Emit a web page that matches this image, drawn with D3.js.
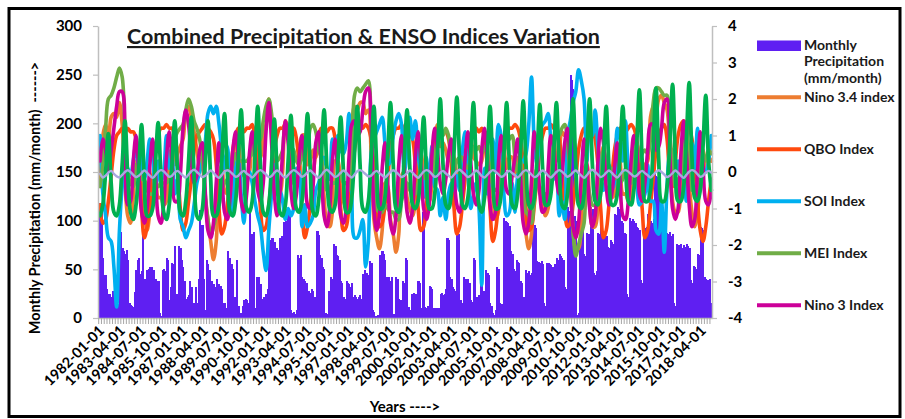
<!DOCTYPE html>
<html><head><meta charset="utf-8">
<script src="https://cdn.jsdelivr.net/npm/d3@7"></script>
<style>
html,body{margin:0;padding:0;background:#fff;}
svg{display:block;font-family:Lato,"Carlito","Open Sans",sans-serif;}
</style></head><body>
<svg id="chart" width="905" height="419"></svg>
<script>
// ---------- DATA ----------
const tickLabels = ["1982-01-01","1983-04-01","1984-07-01","1985-10-01","1987-01-01","1988-04-01","1989-07-01","1990-10-01","1992-01-01","1993-04-01","1994-07-01","1995-10-01","1997-01-01","1998-04-01","1999-07-01","2000-10-01","2002-01-01","2003-04-01","2004-07-01","2005-10-01","2007-01-01","2008-04-01","2009-07-01","2010-10-01","2012-01-01","2013-04-01","2014-07-01","2015-10-01","2017-01-01","2018-04-01"];
const leftTicks = [0,50,100,150,200,250,300];
const rightTicks = [-4,-3,-2,-1,0,1,2,3,4];
const legendLabels = [["Monthly","Precipitation","(mm/month)"],["Nino 3.4 index"],["QBO Index"],["SOI Index"],["MEI Index"],["Nino 3 Index"]];

// monthly precipitation (mm/month), Jan 1982 .. Dec 2018
const precipitation = [
63,118,115,62,44,44,30,25,25,22,28,25,
12,10,14,96,88,72,69,66,70,60,15,13,
12,11,27,49,60,62,45,48,86,40,20,49,
50,52,52,38,49,40,38,38,5,2,49,50,
48,62,60,18,32,56,55,74,25,25,74,72,
60,52,38,20,22,24,38,32,3,15,32,15,
40,111,96,96,40,8,60,55,49,36,38,35,
32,40,33,35,33,30,15,15,10,69,60,62,
55,50,22,22,60,12,5,5,12,18,20,18,
15,110,86,86,88,10,42,40,42,35,20,22,
18,25,30,82,80,82,82,78,70,72,70,82,
84,80,99,100,96,109,105,8,5,6,4,8,
65,62,65,42,40,38,36,28,28,26,30,28,
22,20,89,85,65,62,52,50,5,4,28,26,
42,40,76,74,65,64,60,38,36,22,20,38,
36,35,32,36,22,24,22,20,22,24,20,45,
49,45,46,44,59,56,8,6,2,1,3,65,
62,69,66,60,42,40,42,38,42,4,3,42,
40,20,18,15,38,36,62,60,11,8,25,24,
26,25,22,38,36,10,109,100,11,10,12,33,
32,30,10,8,10,6,10,25,26,24,25,30,
82,80,42,40,32,30,28,89,86,18,18,15,
42,40,38,40,36,18,16,62,60,22,20,24,
86,82,28,26,49,46,44,15,12,5,3,8,
52,50,15,14,12,103,100,99,98,95,69,66,
50,48,60,58,56,38,36,22,20,49,46,48,
44,46,99,96,92,59,58,56,59,55,15,12,
57,56,55,54,52,50,55,62,60,66,64,62,
60,32,30,114,110,250,245,235,105,100,3,5,
100,98,95,66,64,87,86,84,114,112,46,44,
48,87,86,107,104,87,86,84,73,72,80,78,
76,107,106,114,112,110,100,98,87,86,25,22,
103,100,102,100,98,93,92,90,39,36,93,92,
94,107,105,100,98,102,148,146,145,140,100,98,
100,96,98,87,86,88,84,86,15,12,76,75,
74,76,72,75,73,76,74,72,39,36,53,52,
50,66,65,93,92,90,42,40,39,36,40,15];

// index series, read every second month (Feb, Apr, Jun, Aug, Oct, Dec), 1982 .. 2018
const nino34 = [
-0.3,1.0,1.3,0.8,1.5,1.6, 1.5,1.9,1.3,-0.3,-1.2,-1.4, -0.7,0.3,0.2,-0.4,-1.0,-1.6, -1.1,-0.1,0.0,-0.7,-0.7,-0.9,
-0.8,0.5,0.6,0.2,0.5,0.7, 0.9,1.6,1.8,1.5,1.1,0.6, 0.2,0.4,-0.7,-1.3,-1.9,-2.4, -1.9,-0.1,0.2,-0.5,-0.6,-0.6,
-0.1,1.0,0.8,0.1,-0.1,-0.1, 0.0,1.0,1.2,0.4,0.4,1.0, 1.3,2.0,1.3,-0.1,-0.6,-0.6, 0.0,1.4,1.2,0.1,-0.3,-0.4,
-0.2,1.0,1.0,0.2,0.3,0.6, 0.4,1.0,0.6,-0.7,-1.4,-1.5, -1.1,0.3,0.3,-0.5,-0.8,-1.0, -0.7,1.0,1.8,1.7,1.9,1.9,
1.6,1.7,0.5,-1.3,-1.8,-2.1, -1.6,-0.3,-0.4,-1.3,-1.7,-2.2, -1.7,-0.1,0.0,-0.7,-1.0,-1.2, -0.8,0.4,0.5,-0.3,-0.7,-0.8,
-0.3,0.9,1.3,0.7,0.8,0.6, 0.3,0.7,0.4,0.0,-0.1,-0.1, 0.0,0.9,0.9,0.4,0.3,0.2, 0.3,1.1,0.7,-0.3,-0.7,-1.3,
-1.1,0.3,0.6,0.1,0.4,0.4, -0.1,0.4,0.1,-1.0,-1.7,-2.1, -1.7,-0.2,0.1,-0.5,-0.8,-1.2, -1.0,0.5,1.0,0.3,0.6,1.1,
1.0,1.1,0.0,-1.6,-2.1,-2.1, -1.4,0.1,0.2,-0.9,-1.5,-1.5, -0.9,0.3,0.7,0.1,-0.2,-0.7, -0.6,0.5,0.3,-0.6,-0.6,-0.8,
-0.7,0.8,0.8,-0.2,0.0,0.2, 0.3,1.5,1.8,1.6,2.0,2.1, 1.9,1.7,0.6,-0.8,-1.1,-1.1, -0.4,1.0,0.9,-0.3,-1.1,-1.5,
-1.2,0.2,0.6,0.0,0.4,0.3];

const qbo = [
-0.9,-1.4,-1.3,-0.8,-0.1,0.6, 1.0,1.1,1.2,1.1,1.2,1.1, 1.1,0.9,0.2,-1.0,-1.8,-1.5, -0.9,-0.2,0.6,1.0,1.2,1.2,
1.3,1.2,1.2,0.9,0.2,-1.0, -1.6,-1.4,-0.8,-0.2,0.6,1.0, 1.1,1.2,1.3,1.2,1.1,0.9, 0.2,-1.0,-1.7,-1.5,-0.9,-0.2,
0.6,1.0,1.2,1.2,1.1,1.2, 1.2,1.3,0.9,0.2,-1.0,-1.6, -1.5,-0.9,-0.2,0.6,1.0,1.2, 1.2,1.3,1.1,1.2,1.2,0.9,
0.2,-1.0,-1.8,-1.5,-0.9,-0.2, 0.6,1.0,1.2,1.2,1.1,1.2, 1.2,0.9,0.2,-1.0,-1.6,-1.5, -0.9,-0.2,0.6,1.0,1.2,1.2,
1.3,1.2,0.9,0.2,-1.0,-1.5, -1.4,-0.9,-0.2,0.6,1.0,1.2, 1.2,1.3,1.1,1.2,1.1,0.9, 0.2,-1.0,-1.6,-1.5,-0.9,-0.2,
0.6,1.0,1.2,1.2,1.1,1.1, 0.9,0.2,-1.0,-1.7,-1.5,-0.9, -0.2,0.6,1.0,1.2,1.2,1.1, 1.2,0.9,0.2,-1.0,-1.9,-1.6,
-0.9,-0.2,0.6,1.0,1.2,1.2, 1.3,1.2,0.9,0.2,-1.0,-1.6, -1.5,-0.9,-0.2,0.6,1.0,1.2, 1.2,1.3,1.2,1.1,0.9,0.2,
-1.0,-1.5,-1.4,-0.9,-0.2,0.6, 1.0,1.2,1.2,1.1,1.2,0.9, 0.2,-1.0,-1.8,-1.6,-0.9,-0.2, 0.6,1.0,1.2,1.2,1.1,1.2,
1.3,1.2,0.9,0.2,-1.0,-1.8, -1.6,-0.9,-0.2,0.6,1.0,1.2, 1.3,0.9,-0.1,-0.4,0.3,1.0, 1.3,1.4,1.3,1.2,0.9,0.2,
-0.8,-1.6,-1.9,-1.5,-0.8,-0.2];

const soi = [
1.0,-0.6,-1.2,-1.8,-1.9,-2.6, -3.7,-1.6,-0.4,0.2,0.1,-0.1, 0.3,0.8,0.0,0.4,-0.2,0.3, 0.9,0.5,-0.6,0.3,-0.3,0.0,
1.0,0.1,0.4,-0.6,-0.2,-1.3, -1.5,-1.8,-1.6,-1.4,-0.9,-0.3, 0.0,0.3,0.8,1.6,1.8,1.6, 1.8,1.3,0.6,0.1,0.7,-0.4,
-1.2,0.1,0.4,-0.6,-1.4,-0.4, 0.0,-0.3,-0.8,-1.2,-1.5,-2.2, -2.7,-1.6,-0.6,0.2,-0.6,-0.5, -0.8,-1.3,-1.0,-1.2,-1.0,0.1,
0.0,-1.5,-0.9,-1.5,-1.4,-1.2, -0.5,-0.3,0.0,0.4,0.1,-0.2, 0.9,0.6,1.0,0.6,0.5,0.8, 1.6,-0.6,-1.8,-1.8,-1.6,-1.3,
-2.6,-1.9,0.5,0.9,1.1,1.3, 1.5,0.8,0.2,0.3,1.0,1.4, 1.6,1.3,0.0,0.6,1.5,0.9, 1.4,0.5,-0.1,-0.7,0.4,-0.5,
0.7,-0.4,-0.5,-1.2,-0.7,-1.3, -0.6,-0.3,-0.5,-0.1,-0.5,0.6, 1.1,0.0,-1.0,-0.6,-0.3,-1.0, -3.1,0.1,-0.6,-0.2,0.9,0.0,
1.3,1.0,-0.6,-1.2,-1.1,-0.3, -1.1,-0.1,0.2,0.3,0.5,1.3, 2.6,0.8,0.2,1.1,1.3,1.4, 1.6,0.8,-0.2,0.0,-1.2,-0.8,
-1.3,1.0,1.4,1.9,2.2,2.8, 2.5,2.0,0.3,1.0,1.0,1.7, 0.7,-0.1,-0.5,-0.2,0.2,-0.5, -0.3,1.2,0.9,0.3,1.4,0.1,
-0.3,0.8,0.1,-0.9,-0.8,-0.6, 0.2,-0.8,-0.8,-1.6,-1.7,-0.8, -2.2,-0.4,0.5,0.6,-0.1,0.3, -0.1,-0.2,-0.8,0.5,0.8,0.1,
1.2,-0.2,0.1,0.0,0.3,1.0];

const mei = [
-0.4,0.2,1.2,2.0,2.1,2.3, 2.6,2.85,2.6,1.2,0.0,-0.3, -0.4,0.2,-0.1,-0.2,-0.2,-0.5, -0.6,-0.6,-0.4,-0.4,-0.3,-0.3,
-0.3,-0.2,0.2,0.9,1.1,1.2, 1.3,1.7,2.0,1.8,1.4,1.2, 0.9,0.3,-0.6,-1.3,-1.75,-1.5, -1.2,-0.9,-0.5,-0.3,-0.2,0.0,
0.2,0.5,0.3,0.3,0.3,0.3, 0.4,0.5,0.8,0.8,0.9,1.4, 1.8,2.0,1.6,0.6,0.3,0.4, 0.6,1.3,1.3,0.7,0.6,0.3,
0.2,0.4,0.8,0.8,1.2,1.3, 1.1,0.6,0.4,-0.2,-0.5,-0.5, -0.3,-0.3,-0.1,-0.1,-0.3,-0.3, -0.5,0.5,2.1,2.3,2.2,2.3,
2.4,2.5,1.2,-0.5,-1.0,-1.1, -1.1,-0.9,-1.0,-1.1,-1.1,-1.3, -1.3,-0.8,-0.5,-0.3,-0.5,-0.6, -0.6,-0.3,0.1,-0.1,-0.2,-0.1,
-0.1,0.4,0.9,1.0,1.0,1.2, 1.0,0.4,0.0,0.3,0.4,0.4, 0.2,0.1,0.4,0.7,0.6,0.7, 0.5,0.7,0.5,0.1,-0.4,-0.5,
-0.5,-0.2,0.4,0.8,0.9,1.0, 0.4,0.0,0.3,-0.6,-1.1,-1.2, -1.4,-0.8,-0.3,-0.4,-0.8,-0.6, -0.7,-0.1,0.8,1.0,1.0,1.2,
1.3,0.8,-0.2,-1.6,-2.3,-2.0, -1.7,-1.4,-0.2,-0.6,-0.9,-0.9, -0.6,-0.3,0.6,0.3,0.0,0.1, -0.2,-0.1,-0.3,-0.2,0.1,-0.1,
-0.3,0.3,0.8,0.3,0.5,0.6, 0.5,0.9,1.9,2.3,2.3,2.2, 2.1,2.1,1.0,0.3,-0.4,-0.2, -0.1,0.8,1.2,0.4,-0.5,-0.5,
-0.6,-0.1,0.5,0.3,0.6,0.5];

const nino3 = [
0.3,0.9,0.6,0.0,0.6,1.2, 1.8,2.2,2.2,0.6,-0.9,-0.8, 0.3,1.0,0.0,-1.1,-1.4,-1.0, 0.2,0.9,0.0,-1.2,-1.4,-0.9,
0.4,1.1,0.3,-0.8,-0.8,-0.1, 1.2,1.7,1.3,0.3,-0.3,-0.1, 0.6,0.8,-0.5,-1.6,-1.8,-1.4, -0.3,0.8,0.0,-1.1,-1.3,-0.7,
0.6,1.1,0.3,-0.8,-1.1,-0.6, 0.5,1.1,0.5,-0.5,-0.8,-0.3, 1.1,1.9,0.8,-0.6,-1.2,-0.6, 0.5,1.4,0.8,-0.5,-1.0,-0.6,
0.4,1.0,0.3,-0.9,-1.0,-0.4, 0.8,1.1,0.1,-1.2,-1.5,-1.0, 0.3,0.9,-0.1,-1.2,-1.4,-1.0, 0.4,1.3,1.4,1.0,1.1,1.7,
2.2,2.3,1.3,-1.0,-1.6,-1.2, 0.1,0.8,-0.3,-1.4,-1.7,-1.2, 0.2,1.0,0.1,-1.1,-1.4,-1.0, 0.4,1.1,0.2,-1.0,-1.3,-0.9,
0.5,1.2,0.6,-0.3,-0.6,-0.2, 0.5,0.9,-0.1,-0.9,-1.1,-0.6, 0.4,1.1,0.3,-0.6,-0.9,-0.5, 0.6,1.2,0.4,-0.9,-1.3,-1.1,
0.2,1.0,0.3,-0.5,-0.6,-0.1, 0.4,0.9,-0.1,-1.4,-1.7,-1.4, -0.2,1.1,0.5,-0.6,-1.1,-1.0, 0.1,1.0,0.7,-0.2,-0.6,-0.1,
0.8,1.2,0.0,-1.5,-1.8,-1.4, -0.1,0.9,0.2,-1.0,-1.5,-1.2, 0.3,1.2,0.8,-0.4,-0.9,-0.6, 0.1,0.8,-0.2,-1.2,-1.3,-0.8,
0.3,1.0,0.7,-0.6,-0.8,-0.3, 0.6,1.3,1.3,0.6,0.7,1.2, 1.9,2.0,0.4,-1.0,-1.3,-1.0, 0.5,1.4,0.5,-0.9,-1.5,-1.3,
0.0,1.1,0.2,-0.8,-0.9,-0.5];

// unlabelled dark-green series (regular annual cycle)
const annualCycle = [
-1.2,-0.9,0.0,1.05,-0.3,-1.1, -1.2,-0.9,0.2,1.4,-0.1,-1.1, -1.3,-0.9,0.1,1.3,-0.2,-1.2, -1.2,-1.0,0.2,1.35,-0.1,-1.1,
-1.3,-0.9,0.2,1.4,0.0,-1.1, -1.2,-0.8,0.3,1.5,-0.1,-1.2, -1.3,-1.0,0.2,1.4,-0.2,-1.2, -1.2,-0.9,0.3,1.6,0.0,-1.1,
-1.2,-0.8,0.4,1.7,0.1,-1.0, -1.1,-0.8,0.4,1.8,0.1,-1.1, -1.2,-0.9,0.2,1.45,0.0,-1.1, -1.2,-0.9,0.3,1.55,0.0,-1.0,
-1.1,-0.8,0.3,1.6,0.1,-1.1, -1.2,-0.8,0.4,1.7,0.1,-1.0, -1.1,-0.9,0.3,1.5,0.0,-1.1, -1.1,-0.7,0.5,1.8,0.2,-1.0,
-1.1,-0.8,0.4,1.8,0.2,-1.0, -1.0,-0.7,0.5,1.9,0.2,-1.0, -1.1,-0.7,0.4,1.7,0.1,-0.9, -1.0,-0.8,0.3,1.5,0.0,-1.0,
-1.0,-0.6,0.5,2.0,0.2,-0.9, -1.0,-0.6,0.6,2.05,0.3,-0.9, -1.0,-0.7,0.5,1.9,0.2,-0.9, -1.1,-0.7,0.4,1.8,0.1,-1.0,
-1.0,-0.6,0.5,1.9,0.2,-0.9, -1.0,-0.6,0.5,1.95,0.2,-0.9, -1.0,-0.7,0.4,1.85,0.1,-0.9, -0.9,-0.6,0.5,1.9,0.2,-0.9,
-1.0,-0.6,0.6,2.0,0.2,-0.9, -1.0,-0.6,0.6,2.0,0.2,-0.8, -0.9,-0.6,0.4,1.8,0.1,-0.9, -0.9,-0.6,0.5,1.8,0.2,-0.8,
-0.9,-0.5,0.7,2.25,0.3,-0.8, -0.8,-0.5,0.7,2.3,0.3,-0.8, -0.8,-0.4,0.8,2.4,0.4,-0.8, -0.8,-0.4,0.9,2.45,0.4,-0.7,
-0.8,-0.5,0.7,2.1,0.3,-0.5];

// unlabelled lavender series (small wiggle around zero)
const smallWave = [
-0.05,-0.15,-0.1,-0.02,0.03,-0.05, -0.12,-0.15,-0.08,0.0,0.05,0.0, -0.08,-0.14,-0.1,-0.03,0.04,-0.02, -0.1,-0.16,-0.09,0.0,0.05,0.02,
-0.06,-0.13,-0.1,-0.02,0.03,-0.03, -0.1,-0.15,-0.07,0.02,0.06,0.0, -0.07,-0.14,-0.1,-0.03,0.04,-0.02, -0.11,-0.16,-0.08,0.01,0.05,0.01,
-0.06,-0.13,-0.1,-0.02,0.03,-0.04, -0.09,-0.15,-0.08,0.01,0.05,0.0, -0.07,-0.14,-0.11,-0.02,0.04,-0.01, -0.1,-0.15,-0.08,0.0,0.05,0.01,
-0.06,-0.13,-0.09,-0.01,0.04,-0.03, -0.1,-0.16,-0.09,0.01,0.06,0.0, -0.07,-0.14,-0.1,-0.02,0.04,-0.02, -0.1,-0.15,-0.07,0.02,0.05,0.01,
-0.06,-0.12,-0.1,-0.02,0.03,-0.03, -0.09,-0.15,-0.08,0.0,0.05,0.0, -0.07,-0.14,-0.1,-0.03,0.04,-0.02, -0.1,-0.16,-0.08,0.01,0.05,0.02,
-0.06,-0.13,-0.1,-0.02,0.03,-0.04, -0.1,-0.15,-0.07,0.02,0.06,0.0, -0.07,-0.14,-0.1,-0.03,0.04,-0.02, -0.11,-0.15,-0.08,0.0,0.05,0.01,
-0.06,-0.13,-0.1,-0.02,0.03,-0.03, -0.09,-0.15,-0.08,0.01,0.05,0.0, -0.07,-0.14,-0.11,-0.02,0.04,-0.01, -0.1,-0.15,-0.08,0.0,0.05,0.01,
-0.06,-0.13,-0.09,-0.01,0.04,-0.03, -0.1,-0.16,-0.09,0.01,0.06,0.0, -0.07,-0.14,-0.1,-0.02,0.04,-0.02, -0.1,-0.15,-0.07,0.02,0.05,0.01,
-0.06,-0.12,-0.1,-0.02,0.03,-0.03, -0.09,-0.15,-0.08,0.0,0.05,0.0, -0.07,-0.14,-0.1,-0.03,0.04,-0.02, -0.1,-0.16,-0.08,0.01,0.05,0.02,
-0.06,-0.13,-0.1,-0.02,0.03,-0.02];

// ---------- CHART ----------
const months = d3.timeMonth.range(new Date(1982,0,1), new Date(2019,0,1));
const cats = months.map(d3.timeFormat("%Y-%m-%d"));
const lineCats = cats.filter((c,i)=>i%2===1);

const svg = d3.select("#chart");
const P = {left:98, right:712, top:26, bottom:318};
const AXIS_GRAY = "#BFBFBF";

const x = d3.scaleBand().domain(cats).range([P.left,P.right]).padding(0);
const yL = d3.scaleLinear().domain([0,300]).range([P.bottom,P.top]);
const yR = d3.scaleLinear().domain([-4,4]).range([P.bottom,P.top]);

// outer frame
svg.append("rect").attr("x",9).attr("y",8.5).attr("width",891).attr("height",408)
  .attr("fill","#fff").attr("stroke","#000").attr("stroke-width",3);

// bars
svg.append("g").attr("shape-rendering","crispEdges").selectAll("rect").data(precipitation).join("rect")
  .attr("x",(d,i)=>x(cats[i])).attr("width",x.bandwidth()+0.7)
  .attr("y",d=>yL(d)).attr("height",d=>yL(0)-yL(d)).attr("fill","#5F1FF2");

// lines
const series = [
  {data:nino34, color:"#ED7D31", w:3.6},
  {data:qbo, color:"#FF4A0E", w:3.6},
  {data:soi, color:"#00B0F0", w:3.6},
  {data:mei, color:"#70AD47", w:3.6},
  {data:nino3, color:"#CC0099", w:3.6},
  {data:annualCycle, color:"#00B050", w:3.8},
  {data:smallWave, color:"#A8A8E0", w:2.4}
];
const line = d3.line()
  .x((d,i)=>x(lineCats[i])+x.bandwidth()/2)
  .y(d=>yR(d))
  .curve(d3.curveCatmullRom.alpha(0.5));
svg.append("g").selectAll("path").data(series).join("path")
  .attr("d",s=>line(s.data)).attr("fill","none")
  .attr("stroke",s=>s.color).attr("stroke-width",s=>s.w)
  .attr("stroke-linejoin","round").attr("stroke-linecap","round");

// axes
function styleAxis(g){
  g.selectAll(".domain").attr("stroke",AXIS_GRAY).attr("stroke-width",1.5);
  g.selectAll(".tick line").attr("stroke",AXIS_GRAY).attr("stroke-width",1.2);
  g.selectAll("text").attr("fill","#000").attr("font-weight","700").attr("font-size","15px")
   .attr("font-family","Lato, Carlito, sans-serif");
}
svg.append("g").attr("transform",`translate(${P.left},0)`)
  .call(d3.axisLeft(yL).tickValues(leftTicks).tickSize(5).tickPadding(11).tickSizeOuter(0))
  .call(styleAxis);
svg.append("g").attr("transform",`translate(${P.right},0)`)
  .call(d3.axisRight(yR).tickValues(rightTicks).tickSize(5).tickPadding(11).tickSizeOuter(0).tickFormat(d=>String(d)))
  .call(styleAxis);

// bottom axis: line + comb of minor ticks
const gB = svg.append("g").attr("transform",`translate(0,${P.bottom})`)
  .call(d3.axisBottom(x).tickValues(cats.filter((c,i)=>i%2===0)).tickSize(6).tickSizeOuter(0).tickFormat(""));
gB.selectAll(".domain").attr("stroke",AXIS_GRAY).attr("stroke-width",1.5);
gB.selectAll(".tick line").attr("stroke","#A6A6A6").attr("stroke-width",1);

// x labels
svg.append("g").selectAll("text").data(tickLabels).join("text")
  .attr("transform",d=>`translate(${x(d)+x.bandwidth()/2+3},${P.bottom+10}) rotate(-45)`)
  .attr("text-anchor","end").attr("dy","0.35em")
  .attr("font-size","14.5px").attr("font-weight","700").attr("fill","#000")
  .text(d=>d);

// title
const title = svg.append("text").attr("x",127).attr("y",44)
  .attr("font-size","19px").attr("font-weight","700").attr("fill","#1a1a1a")
  .attr("text-decoration","underline")
  .text("Combined Precipitation & ENSO Indices Variation");
const tw = title.node().getComputedTextLength();
title.attr("font-size", (19*473/tw).toFixed(2)+"px");

// axis titles
svg.append("text").attr("transform","translate(40,198) rotate(-90)")
  .attr("text-anchor","middle").attr("font-size","14.5px").attr("font-weight","700")
  .style("white-space","pre").attr("fill","#000")
  .text("Monthly Precipitation (mm/month)  ------>");
svg.append("text").attr("x",405).attr("y",412).attr("text-anchor","middle")
  .attr("font-size","15px").attr("font-weight","700").attr("fill","#000")
  .style("white-space","pre").text("Years ---->");

// legend
const lg = svg.append("g");
lg.append("rect").attr("x",757).attr("y",40.5).attr("width",44).attr("height",10.5).attr("fill","#5F1FF2");
const first = lg.append("text").attr("x",804).attr("y",49.5).attr("font-size","14px").attr("font-weight","700").attr("fill","#1a1a1a");
legendLabels[0].forEach((t,i)=>first.append("tspan").attr("x",804).attr("dy",i?16.8:0).text(t));
const legendColors = ["#ED7D31","#FF4A0E","#00B0F0","#70AD47","#CC0099"];
legendLabels.slice(1).forEach((t,i)=>{
  const yc = 97.3 + i*52;
  lg.append("line").attr("x1",757).attr("x2",801).attr("y1",yc).attr("y2",yc)
    .attr("stroke",legendColors[i]).attr("stroke-width",4);
  lg.append("text").attr("x",804).attr("y",yc).attr("dy","0.36em")
    .attr("font-size","14px").attr("font-weight","700").attr("fill","#1a1a1a").text(t[0]);
});
</script>
</body></html>
